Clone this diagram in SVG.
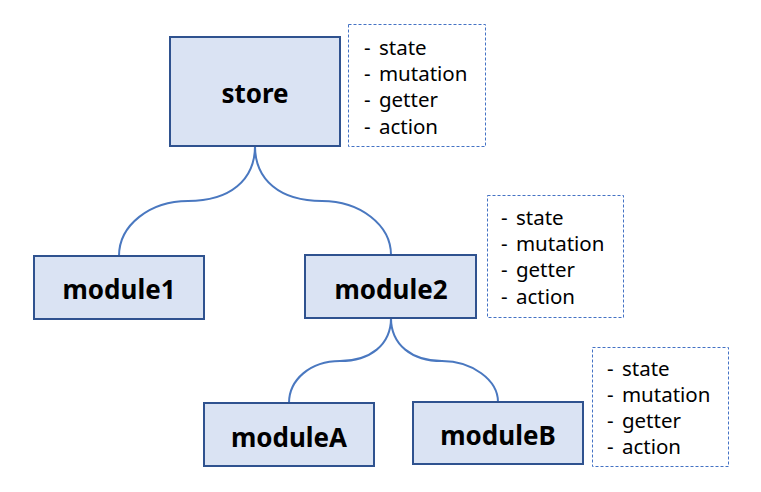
<svg xmlns="http://www.w3.org/2000/svg" width="761" height="492" viewBox="0 0 761 492">
<style>
.node{fill:#dae3f3;stroke:#2f528f;stroke-width:2}
.lbl{font-family:"Noto Sans","Liberation Sans",sans-serif;font-weight:bold;font-size:26px;fill:#000;text-anchor:middle;dominant-baseline:central}
.note{fill:#fff;stroke:#4472c4;stroke-width:1;stroke-dasharray:3 2}
.nt{font-family:"Noto Sans","Liberation Sans",sans-serif;font-size:20.5px;word-spacing:3px;fill:#000;dominant-baseline:central}
.conn{fill:none;stroke:#4a78c0;stroke-width:2}
</style>
<rect width="761" height="492" fill="#fff"/>
<g id="connectors">
<path class="conn" d="M255,146 C255,180 230,201 188,201 C150,201 119,225 119,256"/>
<path class="conn" d="M255,146 C255,180 280,201 322,201 C360,201 391,225 391,255"/>
<path class="conn" d="M391,318 C391,345 370,361 340,361 C310,361 289,380 289,403"/>
<path class="conn" d="M391,318 C391,345 412,361 442,361 C472,361 498,380 498,402"/>
</g>
<g id="store">
<rect class="node" x="170" y="37" width="170" height="109"/>
<text class="lbl" x="255" y="93">store</text>
</g>
<g id="note-store">
<rect class="note" x="348.5" y="24.5" width="137" height="122"/>
<text class="nt" x="364" y="47">- state</text>
<text class="nt" x="364" y="73">- mutation</text>
<text class="nt" x="364" y="99">- getter</text>
<text class="nt" x="364" y="126">- action</text>
</g>
<g id="module1">
<rect class="node" x="34" y="256" width="170" height="63"/>
<text class="lbl" x="119" y="289">module1</text>
</g>
<g id="module2">
<rect class="node" x="305" y="255" width="171" height="63"/>
<text class="lbl" x="391" y="289">module2</text>
</g>
<g id="note-module2">
<rect class="note" x="487.5" y="195.5" width="136" height="122"/>
<text class="nt" x="501" y="217">- state</text>
<text class="nt" x="501" y="243">- mutation</text>
<text class="nt" x="501" y="269">- getter</text>
<text class="nt" x="501" y="296">- action</text>
</g>
<g id="moduleA">
<rect class="node" x="204" y="403" width="170" height="63"/>
<text class="lbl" x="289" y="437">moduleA</text>
</g>
<g id="moduleB">
<rect class="node" x="413" y="402" width="170" height="62"/>
<text class="lbl" x="498" y="435">moduleB</text>
</g>
<g id="note-moduleB">
<rect class="note" x="592.5" y="347.5" width="136" height="119"/>
<text class="nt" x="607" y="368">- state</text>
<text class="nt" x="607" y="394">- mutation</text>
<text class="nt" x="607" y="420">- getter</text>
<text class="nt" x="607" y="446">- action</text>
</g>
</svg>
